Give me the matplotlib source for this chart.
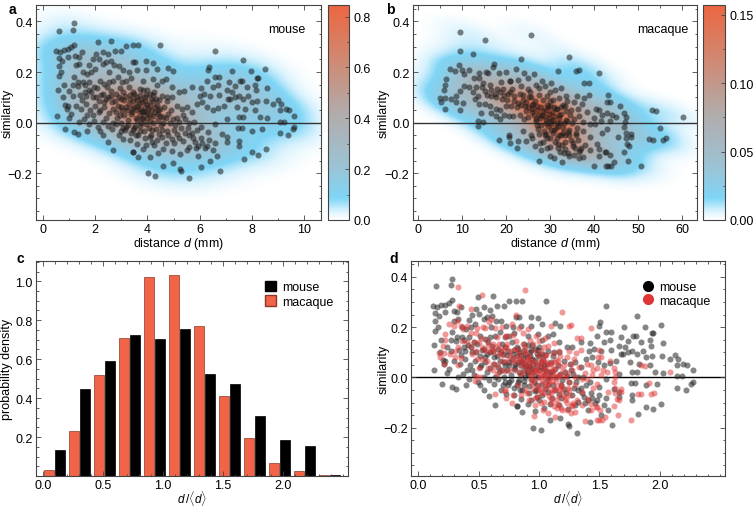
import numpy as np
import matplotlib
matplotlib.use("Agg")
import matplotlib.pyplot as plt
from matplotlib.colors import LinearSegmentedColormap
from matplotlib.ticker import MultipleLocator
from matplotlib.lines import Line2D
from matplotlib.patches import Patch

# mouse: (distance mm, similarity)
mouse_pts = np.array([
    (1.17,0.393),(1.14,0.368),(0.63,0.364),(2.09,0.319),(2.62,0.323),(0.50,0.283),(0.66,0.280),(0.79,0.288),
    (0.95,0.289),(1.07,0.298),(1.20,0.308),(0.73,0.245),(0.60,0.255),(0.95,0.259),(1.24,0.265),(1.37,0.259),
    (2.03,0.272),(2.13,0.252),(2.75,0.283),(3.00,0.283),(3.18,0.304),(3.44,0.305),(0.60,0.223),(0.60,0.183),
    (0.57,0.128),(0.54,0.028),(0.86,0.070),(0.92,0.054),(1.01,0.017),(0.83,-0.025),(1.33,-0.045),(1.07,0.034),
    (1.26,0.226),(1.39,0.232),(1.78,0.228),(1.55,0.200),(1.67,0.193),(1.84,0.200),(2.00,0.213),(2.29,0.232),
    (2.41,0.239),(2.54,0.200),(2.73,0.226),(2.90,0.223),(3.08,0.206),(3.31,0.200),(3.44,0.239),(1.16,0.147),
    (1.33,0.144),(1.52,0.160),(1.62,0.147),(1.78,0.160),(1.97,0.140),(2.18,0.166),(2.35,0.153),(2.52,0.162),
    (2.69,0.166),(2.86,0.180),(3.03,0.160),(3.18,0.166),(3.37,0.176),(1.01,0.123),(1.14,0.107),(1.42,0.110),
    (1.65,0.104),(1.84,0.120),(2.03,0.100),(2.22,0.110),(2.41,0.094),(2.61,0.104),(2.80,0.114),(2.99,0.094),
    (3.15,0.107),(3.33,0.094),(3.50,0.114),(0.95,0.065),(1.26,0.067),(1.46,0.054),(1.65,0.074),(1.80,0.048),
    (2.00,0.067),(2.16,0.041),(2.35,0.061),(2.52,0.038),(2.67,0.054),(2.86,0.067),(3.03,0.048),(3.18,0.061),
    (3.37,0.034),(1.39,0.001),(1.58,0.015),(1.78,-0.005),(1.97,0.008),(2.09,-0.018),(2.29,0.001),(2.48,-0.012),
    (2.64,-0.025),(2.80,-0.005),(2.99,-0.032),(3.18,-0.018),(3.37,-0.041),(2.48,-0.075),(2.69,-0.110),(3.46,-0.115),
    (3.56,-0.051),(3.08,-0.065),(1.19,-0.038),(1.67,-0.032),(2.18,-0.032),(2.30,-0.050),(1.90,0.030),(0.75,0.100),
    (0.80,0.150),(0.70,0.200),(1.50,0.280),(1.90,0.250),(2.30,0.280),(2.50,0.270),(2.60,0.245),
    (4.48,0.305),(3.65,0.305),(6.59,0.283),(6.37,0.219),(6.33,0.206),(3.95,0.242),(4.20,0.235),(3.52,0.239),
    (3.59,0.206),(3.95,0.206),(4.35,0.213),(4.80,0.215),(4.99,0.203),(3.84,0.166),(4.20,0.173),(4.55,0.166),
    (4.71,0.173),(4.93,0.140),(5.22,0.120),(5.40,0.123),(5.71,0.140),(6.04,0.136),(6.27,0.166),(6.59,0.180),
    (6.76,0.180),(6.53,0.140),(6.72,0.147),(6.17,0.114),(6.40,0.104),(6.00,0.104),(6.76,0.110),(5.89,0.074),
    (6.08,0.080),(6.30,0.061),(6.50,0.051),(6.72,0.057),(6.94,0.065),(7.10,0.094),(3.46,0.120),(3.72,0.133),
    (3.91,0.100),(4.10,0.114),(4.33,0.094),(4.55,0.107),(4.74,0.087),(4.93,0.100),(5.12,0.067),(5.31,0.054),
    (5.51,0.061),(5.70,0.041),(3.40,0.054),(3.59,0.067),(3.84,0.041),(4.04,0.054),(4.23,0.028),(4.42,0.048),
    (4.61,0.021),(4.80,0.034),(4.99,0.015),(5.22,0.004),(5.44,0.015),(5.79,0.001),(6.04,-0.018),(6.33,-0.038),
    (6.59,-0.005),(6.85,-0.045),(7.04,-0.078),(3.52,-0.012),(3.72,-0.032),(3.95,-0.005),(4.13,-0.049),(4.33,-0.025),
    (4.55,-0.058),(4.74,-0.032),(4.93,-0.065),(5.12,-0.045),(5.38,-0.071),(5.61,-0.051),(5.83,-0.078),(3.59,-0.084),
    (3.84,-0.104),(4.16,-0.078),(4.25,-0.088),(4.61,-0.104),(4.93,-0.111),(5.25,-0.124),(5.61,-0.098),(5.95,-0.131),
    (6.40,-0.150),(6.65,-0.131),(6.78,-0.190),(3.46,-0.115),(3.65,-0.137),(4.10,-0.135),(4.61,-0.170),(4.97,-0.160),
    (5.25,-0.184),(5.28,-0.193),(4.01,-0.200),(4.29,-0.210),(6.04,-0.177),(5.58,-0.220),(5.95,-0.091),(6.27,-0.091),
    (3.70,0.030),(3.80,0.080),(4.00,0.020),(4.10,0.070),(3.60,0.090),(4.40,0.010),(3.90,0.060),(4.20,0.110),
    (3.75,0.000),(4.05,-0.020),
    (7.68,0.246),(7.23,0.202),(7.97,0.202),(8.50,0.210),(7.13,0.162),(7.55,0.166),(7.64,0.166),(8.19,0.176),
    (8.25,0.176),(7.36,0.144),(7.80,0.140),(8.12,0.149),(8.57,0.136),(7.04,0.127),(7.26,0.120),(7.49,0.104),
    (7.87,0.104),(8.15,0.127),(7.17,0.094),(7.36,0.100),(7.68,0.094),(8.00,0.080),(8.20,0.087),(8.55,0.087),
    (9.02,0.091),(9.12,0.074),(8.83,0.074),(9.30,0.054),(9.43,0.048),(9.63,0.028),(9.08,0.048),(7.42,0.061),
    (7.74,0.054),(8.12,0.048),(7.04,0.015),(7.49,0.021),(7.68,0.021),(8.32,0.021),(8.57,0.017),(9.08,0.004),
    (9.25,0.004),(9.63,-0.018),(9.57,-0.025),(7.46,-0.022),(7.61,-0.022),(7.99,-0.032),(8.38,-0.025),(9.08,-0.041),
    (9.38,-0.051),(7.04,-0.058),(7.49,-0.071),(7.49,-0.091),(8.00,-0.117),(8.25,-0.127),(8.53,-0.104),(7.71,-0.144),
    # overlapping points in the dense core
    (3.55,0.020),(3.62,0.050),(3.68,0.075),(3.78,0.045),(3.85,0.015),(3.92,0.085),(3.98,0.035),(4.08,0.005),
    (4.15,0.050),(4.22,0.085),(4.30,0.040),(4.38,0.070),(4.47,0.025),(4.52,-0.010),(3.45,0.085),(3.50,-0.020),
    (3.65,-0.050),(3.88,-0.035),(4.18,-0.030),(4.45,-0.045),(3.30,0.075),(3.25,0.010),(3.10,0.030),(3.05,0.120),
    (2.95,0.135),(2.85,0.020),(2.75,0.085),(2.60,0.125),(2.45,0.140),(2.30,0.115),(2.15,0.085),(2.05,0.135),
    (1.90,0.100),(1.75,0.130),(1.60,0.120),(1.50,0.090),(1.35,0.160),(1.20,0.180),(4.65,0.060),(4.85,0.000),
    (5.00,-0.030),(5.15,0.020),(5.30,-0.020),(5.45,-0.040),(5.60,0.000),(5.75,-0.060),(5.90,-0.030),(6.05,-0.060),
    (6.20,-0.100),(6.35,-0.070),(6.50,-0.110),(6.60,-0.080),(5.50,-0.110),(5.00,-0.080),(4.70,-0.080),(4.40,-0.120),
    (3.30,0.140),(3.70,0.110),(4.00,0.130),(2.70,0.000),(3.00,0.000),(2.20,0.050),(2.40,0.020),(1.70,0.030),
    (3.35,-0.070),(3.95,-0.090),(4.35,0.150),(2.90,-0.050),
    (3.40,0.040),(3.50,0.060),(3.60,0.010),(3.70,0.055),(3.80,0.020),(3.90,0.040),(4.00,0.075),(4.10,0.030),
    (4.20,0.000),(4.30,0.060),(4.40,0.035),(4.50,0.055),(4.60,0.000),(4.70,0.020),(3.55,0.100),(3.75,0.095),
    (3.95,0.110),(4.15,0.095),(3.45,-0.030),(3.70,-0.015),(3.90,-0.060),(4.10,-0.055),(4.35,-0.070),(4.55,-0.030),
    (3.20,0.050),(3.10,0.090),(3.00,0.060),(2.90,0.100),(2.80,0.040),(2.65,0.080),(2.50,0.100),(2.35,0.080),
    (3.15,-0.030),(2.95,0.030),(4.80,-0.050),(5.05,-0.010),(5.20,-0.060),(5.35,0.030),(5.55,-0.020),(5.70,-0.040),
    (5.85,-0.100),(6.10,-0.080),(4.90,0.050),(4.75,0.100),(3.35,0.110),(3.25,-0.010),(3.05,-0.020),(4.45,0.090),
    (3.85,0.130),(4.25,0.120),
])

# macaque: (distance mm, similarity)
macaque_pts = np.array([
    (9.5,0.358),(15.2,0.327),(9.65,0.284),(12.5,0.271),(9.35,0.226),(10.1,0.206),(10.6,0.193),(7.4,0.213),
    (8.5,0.205),(11.6,0.206),(17.4,0.232),(17.0,0.219),(6.5,0.173),(6.3,0.147),(5.9,0.127),(5.0,0.096),
    (5.2,0.081),(6.1,0.096),(6.25,0.054),(7.6,0.094),(8.7,0.081),(8.7,0.107),(9.5,0.123),(10.4,0.143),
    (11.6,0.139),(9.5,0.048),(10.2,0.077),(12.7,0.176),(14.0,0.197),(15.4,0.200),(15.9,0.195),(18.4,0.197),
    (18.9,0.162),(20.1,0.200),(20.96,0.165),(13.9,0.176),(14.9,0.157),(16.3,0.147),(17.9,0.133),(19.3,0.133),
    (20.4,0.114),(12.5,0.120),(13.7,0.107),(15.2,0.123),(16.7,0.104),(17.8,0.100),(19.2,0.094),(12.9,0.094),
    (14.0,0.074),(15.2,0.074),(16.3,0.067),(17.8,0.054),(18.7,0.048),(19.5,0.030),(20.7,0.025),(20.05,0.067),
    (14.4,0.038),(16.7,0.038),(13.7,0.005),(14.8,0.001),(13.6,-0.015),(18.4,-0.067),(20.7,-0.055),(20.96,-0.081),
    (17.8,0.028),(18.7,0.015),
    (25.6,0.347),(23.4,0.250),(34.4,0.259),(31.7,0.205),(35.9,0.203),(36.5,0.209),(41.2,0.195),(22.3,0.213),
    (24.0,0.197),(26.3,0.191),(21.0,0.166),(22.7,0.170),(25.1,0.177),(28.1,0.166),(30.2,0.157),(32.5,0.136),
    (37.8,0.157),(38.8,0.157),(21.3,0.133),(23.4,0.144),(24.9,0.133),(26.8,0.149),(28.9,0.144),(31.1,0.127),
    (33.6,0.104),(36.1,0.104),(37.6,0.096),(38.9,0.110),(21.9,0.104),(23.8,0.110),(25.7,0.100),(27.6,0.110),
    (29.3,0.104),(30.6,0.091),(32.1,0.096),(33.8,0.087),(35.5,0.083),(37.2,0.074),(40.4,0.054),(42.9,0.080),
    (21.2,0.067),(22.7,0.078),(24.3,0.067),(26.1,0.074),(28.0,0.061),(29.9,0.067),(31.6,0.054),(33.3,0.067),
    (34.8,0.048),(36.4,0.054),(38.4,0.041),(39.9,0.017),(41.7,0.030),(21.6,0.028),(23.1,0.030),(25.0,0.021),
    (26.8,0.015),(28.7,0.025),(30.2,0.008),(32.1,0.017),(33.9,0.008),(35.5,0.015),(37.4,0.001),(39.1,-0.005),
    (40.2,-0.005),(41.7,-0.041),(20.8,-0.051),(22.5,-0.102),(23.8,-0.032),(25.6,-0.049),(27.2,-0.025),(29.1,-0.045),
    (31.0,-0.028),(32.5,-0.051),(34.0,-0.036),(35.9,-0.051),(37.4,-0.032),(39.1,-0.058),(24.6,-0.071),(26.5,-0.091),
    (28.3,-0.078),(30.1,-0.098),(31.7,-0.084),(33.4,-0.104),(35.1,-0.091),(36.6,-0.115),(29.9,-0.131),(32.3,-0.115),
    (34.4,-0.131),(35.5,-0.128),(37.4,-0.137),(40.6,-0.084),(41.2,-0.131),(42.4,-0.117),(27.6,-0.153),(32.6,-0.157),
    (39.9,-0.173),(42.7,-0.170),(22.7,-0.071),(36.6,0.028),
    (26.0,0.040),(27.5,0.030),(29.0,0.050),(30.5,0.040),(32.0,0.030),(27.0,-0.010),(29.5,-0.015),(31.5,0.000),
    (33.0,-0.020),(28.5,0.090),(24.5,0.045),(34.5,0.030),(26.0,-0.060),(30.0,-0.060),(33.5,-0.075),(28.0,-0.110),
    (31.0,-0.140),(25.5,0.120),(27.5,0.135),(30.0,0.120),
    (43.1,0.110),(43.7,0.083),(45.9,0.067),(41.2,0.051),(42.8,0.038),(44.1,0.030),(45.0,0.021),(46.7,0.038),
    (47.1,0.021),(41.6,0.008),(43.7,0.008),(46.9,0.001),(46.7,-0.018),(53.2,0.051),(54.1,0.046),(60.1,0.021),
    (55.0,-0.021),(42.8,-0.025),(47.1,-0.041),(48.4,-0.045),(45.4,-0.058),(47.1,-0.062),(48.4,-0.058),(52.4,-0.065),
    (53.3,-0.067),(55.6,-0.067),(56.2,-0.062),(47.4,-0.084),(47.9,-0.091),(42.6,-0.117),(43.5,-0.128),(46.8,-0.115),
    (44.6,-0.157),(47.7,-0.150),(43.1,-0.170),(43.9,-0.170),(50.7,-0.170),(41.2,-0.104),
    # overlapping points in the dense core
    (27.8,0.020),(28.4,0.045),(29.1,0.010),(29.7,0.035),(30.3,-0.005),(30.9,0.025),(31.4,0.055),(31.9,-0.015),
    (32.5,0.035),(33.1,0.000),(33.7,0.045),(34.2,-0.030),(28.6,-0.035),(29.3,-0.060),(30.6,-0.040),(31.2,-0.075),
    (32.0,-0.050),(32.8,-0.090),(33.5,-0.050),(34.8,-0.070),(35.6,-0.100),(36.3,-0.070),(37.0,-0.100),(27.1,0.065),
    (26.5,0.085),(25.8,0.055),(25.2,0.100),(24.6,0.080),(23.9,0.090),(23.2,0.115),(22.6,0.060),(21.8,0.085),
    (21.0,0.120),(20.2,0.090),(19.5,0.110),(18.6,0.120),(17.6,0.115),(16.6,0.130),(15.8,0.110),(14.6,0.140),
    (13.2,0.140),(26.9,0.005),(28.0,-0.010),(26.3,0.030),(35.0,0.000),(36.0,-0.020),(33.0,0.070),(30.0,0.085),
    (34.0,-0.120),(31.8,-0.100),(29.6,0.060),(27.4,-0.045),(24.2,0.015),(38.0,-0.090),(39.0,-0.110),(36.5,-0.140),
    (28.2,0.030),(29.0,0.000),(29.8,0.020),(30.6,0.010),(31.3,-0.020),(32.2,0.000),(32.9,-0.040),(33.6,0.010),
    (30.2,-0.030),(29.4,0.070),(28.8,-0.050),(31.6,-0.060),(34.3,-0.050),(35.2,-0.080),(27.0,0.050),(26.0,0.070),
    (24.9,0.060),(23.5,0.070),(30.8,0.060),(32.4,0.060),(33.2,-0.120),(35.8,-0.040),(27.8,-0.080),(36.8,-0.110),
    (29.3,-0.100),
])

# panel c: histogram of d/<d>, 12 bins on [0, 2.5]
hist_mouse = [0.135, 0.445, 0.59, 0.725, 0.705, 0.755, 0.525, 0.47, 0.31, 0.185, 0.155, 0.006]
hist_macaque = [0.03, 0.23, 0.52, 0.71, 1.02, 1.03, 0.77, 0.41, 0.195, 0.065, 0.025, 0.003]

plt.rcParams['font.family'] = ['Liberation Sans', 'DejaVu Sans']
plt.rcParams['mathtext.fontset'] = 'custom'
plt.rcParams['mathtext.rm'] = 'Liberation Sans'
plt.rcParams['mathtext.it'] = 'Liberation Sans:italic'
plt.rcParams['font.size'] = 9

cmap = LinearSegmentedColormap.from_list("dens", [
    (0.0, "#ffffff"), (0.04, "#d8f2fd"), (0.1, "#7fd5f6"), (0.25, "#9cc3d4"),
    (0.5, "#b2abaa"), (0.72, "#cd8c78"), (1.0, "#ec6640")])

YLIM = (-0.385, 0.465)
DLIM = (-0.06, 2.54)
edge = "#444444"


def kde(pts, xs, ys, factor):
    cov = np.cov(pts.T) * factor**2
    inv = np.linalg.inv(cov)
    norm = 1.0 / (2 * np.pi * np.sqrt(np.linalg.det(cov)) * len(pts))
    X, Y = np.meshgrid(xs, ys)
    dx = X[..., None] - pts[:, 0]
    dy = Y[..., None] - pts[:, 1]
    q = inv[0, 0]*dx**2 + 2*inv[0, 1]*dx*dy + inv[1, 1]*dy**2
    return norm * np.exp(-0.5*q).sum(-1)


def style(ax):
    for sp in ax.spines.values():
        sp.set_color(edge)
        sp.set_linewidth(0.8)
    ax.tick_params(which='both', direction='in', top=True, right=True, color=edge, width=0.6)
    ax.tick_params(which='major', length=3.5, pad=2.5)
    ax.tick_params(which='minor', length=1.8)


def density_panel(ax, cax, pts, xlim, vmax, cticks, cminor, name, xmaj, xmin, ylx):
    xs = np.linspace(xlim[0], xlim[1], 200)
    ys = np.linspace(YLIM[0], YLIM[1], 200)
    z = kde(pts, xs, ys, 0.4)
    im = ax.imshow(z, extent=[xlim[0], xlim[1], YLIM[0], YLIM[1]], origin='lower',
                   aspect='auto', cmap=cmap, vmin=0, vmax=vmax, interpolation='bilinear')
    ax.axhline(0, color='#333333', lw=1, zorder=2)
    ax.scatter(pts[:, 0], pts[:, 1], s=19, c='#1a1a1a', alpha=0.55, lw=0, zorder=3)
    ax.set_xlim(xlim)
    ax.set_ylim(YLIM)
    ax.set_yticks([-0.2, 0.0, 0.2, 0.4])
    ax.yaxis.set_minor_locator(MultipleLocator(0.05))
    ax.xaxis.set_major_locator(MultipleLocator(xmaj))
    ax.xaxis.set_minor_locator(MultipleLocator(xmin))
    ax.set_ylabel("similarity")
    ax.yaxis.set_label_coords(ylx, 0.5)
    ax.set_xlabel("distance $d$ (mm)", labelpad=0)
    ax.text(0.88, 0.89, name, transform=ax.transAxes, ha='center', va='center')
    style(ax)
    cb = fig.colorbar(im, cax=cax, ticks=cticks)
    cb.outline.set_edgecolor(edge)
    cb.outline.set_linewidth(0.8)
    cax.yaxis.set_minor_locator(MultipleLocator(cminor))
    cax.tick_params(which='both', direction='in', color=edge, width=0.6, pad=3)
    cax.tick_params(which='major', length=3)
    cax.tick_params(which='minor', length=1.5)


fig = plt.figure(figsize=(7.54, 5.10), dpi=100)
ax_a = fig.add_axes([0.0477, 0.5667, 0.378, 0.4216])
cb_a = fig.add_axes([0.435, 0.5667, 0.0279, 0.4216])
ax_b = fig.add_axes([0.5477, 0.5667, 0.3767, 0.4216])
cb_b = fig.add_axes([0.9324, 0.5667, 0.0292, 0.4216])
ax_c = fig.add_axes([0.0477, 0.0647, 0.4138, 0.4215])
ax_d = fig.add_axes([0.5451, 0.0647, 0.4164, 0.4215])

density_panel(ax_a, cb_a, mouse_pts, (-0.27, 10.65), 0.846, [0, 0.2, 0.4, 0.6, 0.8], 0.1,
              "mouse", 2, 1, -0.08)
cb_a.set_yticklabels(["0.0", "0.2", "0.4", "0.6", "0.8"])
density_panel(ax_b, cb_b, macaque_pts, (-1.06, 63.3), 0.157, [0, 0.05, 0.10, 0.15], 0.025,
              "macaque", 10, 5, -0.081)
cb_b.set_yticklabels(["0.00", "0.05", "0.10", "0.15"])

# panel c
bin_w = 2.5 / len(hist_mouse)
idx = np.arange(len(hist_mouse))
ax_c.bar(idx*bin_w + 0.05, hist_macaque, width=0.085, color='#f26448', edgecolor='#8a3a2a', lw=0.5)
ax_c.bar(idx*bin_w + 0.137, hist_mouse, width=0.085, color='black', edgecolor='black', lw=0.5)
ax_c.set_xlim(DLIM)
ax_c.set_ylim(0, 1.104)
ax_c.set_yticks([0.2, 0.4, 0.6, 0.8, 1.0])
ax_c.yaxis.set_minor_locator(MultipleLocator(0.05))
ax_c.set_xticks([0, 0.5, 1.0, 1.5, 2.0])
ax_c.xaxis.set_minor_locator(MultipleLocator(0.1))
ax_c.set_ylabel("probability density")
ax_c.yaxis.set_label_coords(-0.074, 0.5)
style(ax_c)
ax_c.legend(handles=[Patch(facecolor='black', edgecolor='black', label='mouse'),
                     Patch(facecolor='#f26448', edgecolor='#8a3a2a', label='macaque')],
            loc='upper right', bbox_to_anchor=(0.99, 0.96), frameon=False,
            handlelength=0.9, handleheight=0.9, handletextpad=0.5, labelspacing=0.15)

# panel d: similarity vs normalised distance
ax_d.axhline(0, color='black', lw=1, zorder=1)
ax_d.scatter(mouse_pts[:, 0] / mouse_pts[:, 0].mean(), mouse_pts[:, 1], s=19, c='#222222',
             alpha=0.55, lw=0, zorder=2)
ax_d.scatter(macaque_pts[:, 0] / macaque_pts[:, 0].mean(), macaque_pts[:, 1], s=19, c='#e03535',
             alpha=0.5, lw=0, zorder=3)
ax_d.set_xlim(DLIM)
ax_d.set_ylim(-0.392, 0.463)
ax_d.set_yticks([-0.2, 0.0, 0.2, 0.4])
ax_d.yaxis.set_minor_locator(MultipleLocator(0.05))
ax_d.set_xticks([0, 0.5, 1.0, 1.5, 2.0])
ax_d.xaxis.set_minor_locator(MultipleLocator(0.1))
ax_d.set_ylabel("similarity")
ax_d.yaxis.set_label_coords(-0.067, 0.5)
style(ax_d)
ax_d.legend(handles=[Line2D([], [], marker='o', ls='', color='black', markersize=7, label='mouse'),
                     Line2D([], [], marker='o', ls='', color='#e03535', markersize=7, label='macaque')],
            loc='upper right', bbox_to_anchor=(0.99, 0.96), frameon=False,
            handletextpad=0.3, labelspacing=0.15, handlelength=1.2)

for ax in (ax_c, ax_d):
    ax.set_xlabel(r"$d\,/\langle d\rangle$", fontsize=8.5)
    ax.xaxis.set_label_coords(0.5, -0.058)
    ax.xaxis.label.set_va('top')

for lab, x, y in [("a", 0.012, 0.995), ("b", 0.512, 0.995), ("c", 0.022, 0.505), ("d", 0.517, 0.505)]:
    fig.text(x, y, lab, fontsize=10, fontweight='bold', va='top')

fig.savefig("out.png", dpi=100)
